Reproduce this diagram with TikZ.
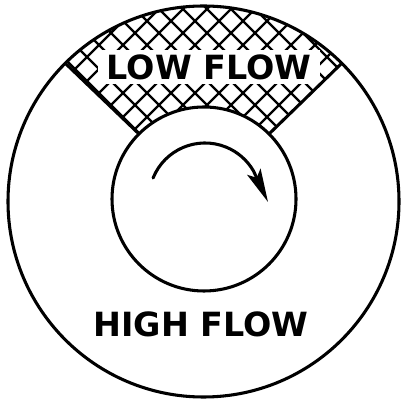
\documentclass[tikz,border=0pt]{standalone}
\usepackage{fontspec}
\newfontfamily\lblfont{DejaVu Sans}
\usetikzlibrary{arrows.meta,calc}
\tikzset{
  ring/.style={line width=2.3pt},
  hatchline/.style={line width=1.8pt},
  lbl/.style={font=\lblfont\bfseries\fontsize{25}{28}\selectfont, inner sep=0pt},
  lowbox/.style={lbl, fill=white, minimum width=166pt, minimum height=25pt},
  flowarrow/.style={line width=2.3pt, line cap=round, -{Stealth[length=25pt,width=11pt,inset=5pt]}}
}
\begin{document}
\begin{tikzpicture}[x=0.75pt,y=0.75pt]
\useasboundingbox (0,0) rectangle (400,402);
\coordinate (oc) at (203.5,200.5);
\coordinate (ic) at (204,203);
\coordinate (ac) at (205,203);
\coordinate (ol) at ($(oc)+(135:195.5)$);
\coordinate (or) at ($(oc)+(45:195.5)$);
\coordinate (il) at ($(ic)+(135:92)$);
\coordinate (ir) at ($(ic)+(45:92)$);
% hatched sector
\begin{scope}
  \clip (ol) arc[start angle=135,end angle=45,radius=195.5] -- (ir) arc[start angle=45,end angle=135,radius=92] -- cycle;
  \foreach \c in {-408,-384,...,408} {
    \draw[hatchline] (\c+6,0) -- ++(402,402);
    \draw[hatchline] (\c+6,402) -- ++(402,-402);
  }
\end{scope}
\node[lowbox] (low) at (209,335) {LOW FLOW};
% circles and sector boundaries
\draw[ring] (oc) circle[radius=195.5];
\draw[ring] (ic) circle[radius=92];
\draw[ring] (il) -- (ol);
\draw[ring] (ir) -- (or);
% rotation arrow
\coordinate (as) at ($(ac)+(158:56)$);
\coordinate (tip) at (268,200);
\draw[flowarrow] (as) arc[start angle=158,end angle=30,radius=56] -- (tip);
\node[lbl] (high) at (201,78) {HIGH FLOW};
\end{tikzpicture}
\end{document}
